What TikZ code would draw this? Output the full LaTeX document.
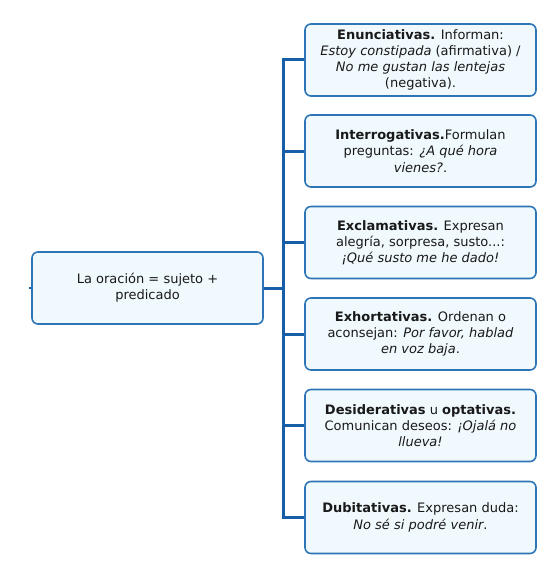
\documentclass[tikz,border=0pt]{standalone}
\usepackage{fontspec}
\setmainfont{DejaVu Sans}
\usepackage{xcolor}
\definecolor{linkblue}{RGB}{22,94,168}
\definecolor{boxline}{RGB}{45,117,182}
\definecolor{boxfill}{RGB}{240,249,253}

\begin{document}
\begin{tikzpicture}[x=1pt,y=-1pt]
    \pgfmathsetmacro{\boxw}{231}
    \pgfmathsetmacro{\boxh}{72}
    \pgfmathsetmacro{\busx}{283.5}
    \tikzset{every node/.style={font=\fontsize{13}{16.2}\selectfont,text=black!90}}
    \tikzset{topic/.style={draw=boxline,fill=boxfill,line width=1.6pt,rounded corners=6pt,minimum width=\boxw pt,minimum height=\boxh pt,align=center,inner sep=0pt}}
    \tikzset{link/.style={draw=linkblue,line width=3pt}}
    \useasboundingbox (0,0) rectangle (558,586);
    \node[topic] (oracion) at (147.5,288) {La oración = sujeto +\\predicado};
    \node[topic] (enunciativas) at (420.5,60) {\textbf{Enunciativas.} Informan:\\\textit{Estoy constipada} (afirmativa) /\\\textit{No me gustan las lentejas}\\(negativa).};
    \node[topic] (interrogativas) at (420.5,151) {\textbf{Interrogativas.}Formulan\\preguntas: \textit{¿A qué hora}\\\textit{vienes?}.};
    \node[topic] (exclamativas) at (420.5,242.5) {\textbf{Exclamativas.} Expresan\\alegría, sorpresa, susto...:\\\textit{¡Qué susto me he dado!}};
    \node[topic] (exhortativas) at (420.5,334) {\textbf{Exhortativas.} Ordenan o\\aconsejan: \textit{Por favor, hablad}\\\textit{en voz baja}.};
    \node[topic] (desiderativas) at (420.5,425.5) {\textbf{Desiderativas} u \textbf{optativas.}\\Comunican deseos: \textit{¡Ojalá no}\\\textit{llueva!}};
    \node[topic] (dubitativas) at (420.5,517.5) {\textbf{Dubitativas.} Expresan duda:\\\textit{No sé si podré venir}.};
    \coordinate (busTop) at (\busx,60);
    \coordinate (busMid) at (\busx,288);
    \coordinate (busBot) at (\busx,517.5);
    \draw[link] (enunciativas.west) -- (busTop) -- (busBot) -- (dubitativas.west);
    \draw[link] (oracion.east) -- (busMid);
    \draw[link] (interrogativas.west) -- (interrogativas.west -| busMid);
    \draw[link] (exclamativas.west) -- (exclamativas.west -| busMid);
    \draw[link] (exhortativas.west) -- (exhortativas.west -| busMid);
    \draw[link] (desiderativas.west) -- (desiderativas.west -| busMid);
    \draw[draw=linkblue,line width=2pt] (oracion.west) -- ++(-2,0);
\end{tikzpicture}
\end{document}
